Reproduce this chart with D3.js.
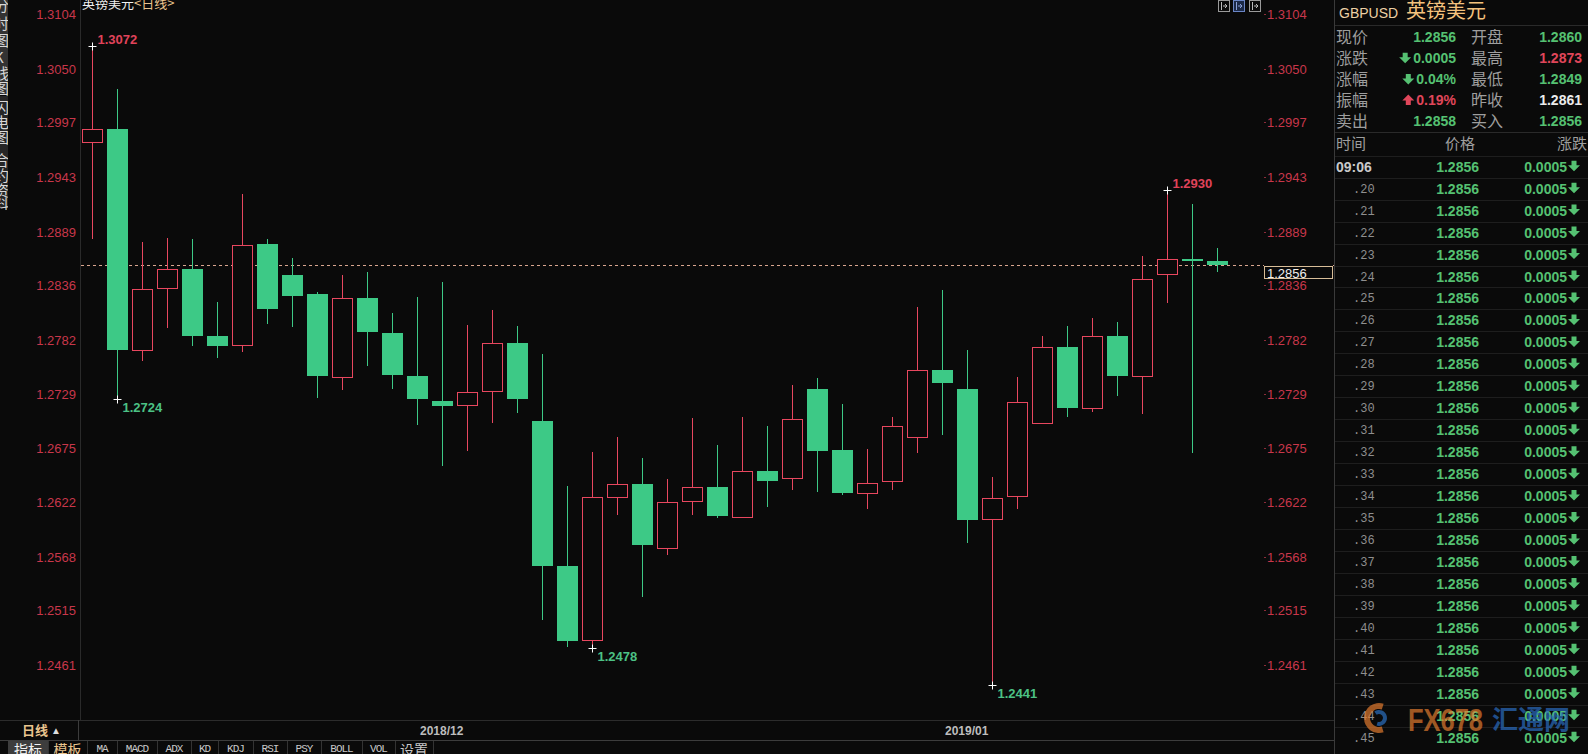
<!DOCTYPE html>
<html><head><meta charset="utf-8">
<script src="https://cdn.jsdelivr.net/npm/d3@7"></script>
<style>
html,body{margin:0;padding:0;background:#0a0a0a;overflow:hidden}
svg{display:block}
</style></head><body>
<svg id="c" width="1588" height="754"></svg>
<script>
// ---------------- data ----------------
const dates = ["2018-11-13","2018-11-14","2018-11-15","2018-11-16","2018-11-19","2018-11-20","2018-11-21","2018-11-22","2018-11-23","2018-11-26","2018-11-27","2018-11-28","2018-11-29","2018-11-30","2018-12-03","2018-12-04","2018-12-05","2018-12-06","2018-12-07","2018-12-10","2018-12-11","2018-12-12","2018-12-13","2018-12-14","2018-12-17","2018-12-18","2018-12-19","2018-12-20","2018-12-21","2018-12-24","2018-12-25","2018-12-26","2018-12-27","2018-12-28","2018-12-31","2019-01-02","2019-01-03","2019-01-04","2019-01-07","2019-01-08","2019-01-09","2019-01-10","2019-01-11","2019-01-14","2019-01-15","2019-01-16"];
const opens  = [1.2977,1.2990,1.2772,1.2833,1.2852,1.2786,1.2777,1.2877,1.2846,1.2827,1.2745,1.2823,1.2789,1.2746,1.2722,1.2718,1.2732,1.2779,1.2702,1.2559,1.2486,1.2627,1.2640,1.2577,1.2623,1.2637,1.2608,1.2653,1.2646,1.2734,1.2673,1.2631,1.2643,1.2686,1.2752,1.2734,1.2605,1.2628,1.2700,1.2775,1.2715,1.2786,1.2746,1.2847,1.2862,1.2860];
const highs  = [1.3072,1.3030,1.2879,1.2883,1.2882,1.2820,1.2926,1.2882,1.2863,1.2829,1.2846,1.2849,1.2809,1.2824,1.2839,1.2797,1.2812,1.2796,1.2768,1.2638,1.2671,1.2686,1.2665,1.2645,1.2705,1.2678,1.2706,1.2697,1.2738,1.2744,1.2719,1.2674,1.2706,1.2815,1.2831,1.2772,1.2647,1.2745,1.2786,1.2796,1.2804,1.2800,1.2865,1.2930,1.2916,1.2873];
const lows   = [1.2882,1.2724,1.2761,1.2794,1.2776,1.2764,1.2770,1.2798,1.2795,1.2725,1.2733,1.2756,1.2734,1.2698,1.2658,1.2672,1.2700,1.2710,1.2505,1.2479,1.2478,1.2609,1.2528,1.2570,1.2609,1.2606,1.2607,1.2617,1.2634,1.2632,1.2629,1.2615,1.2634,1.2670,1.2688,1.2581,1.2441,1.2615,1.2699,1.2706,1.2711,1.2727,1.2709,1.2819,1.2670,1.2849];
const closes = [1.2990,1.2772,1.2832,1.2852,1.2786,1.2776,1.2876,1.2813,1.2825,1.2746,1.2823,1.2789,1.2748,1.2723,1.2717,1.2731,1.2779,1.2724,1.2559,1.2485,1.2627,1.2640,1.2580,1.2622,1.2637,1.2608,1.2653,1.2643,1.2704,1.2673,1.2631,1.2641,1.2697,1.2752,1.2739,1.2605,1.2626,1.2721,1.2775,1.2715,1.2786,1.2746,1.2842,1.2862,1.2861,1.2856];

const yTicks = [1.3104,1.3050,1.2997,1.2943,1.2889,1.2836,1.2782,1.2729,1.2675,1.2622,1.2568,1.2515,1.2461];
const xTickLabels = ["2018/12","2019/01"];
const lastPrice = 1.2856;
const extremaIdx   = [0, 1, 20, 36, 43];
const extremaKind  = ["high","low","low","low","high"];
const extremaText  = ["1.3072","1.2724","1.2478","1.2441","1.2930"];

const quoteLabelsL = ["现价","涨跌","涨幅","振幅","卖出"];
const quoteValuesL = ["1.2856","0.0005","0.04%","0.19%","1.2858"];
const quoteDirL    = [0,-1,-1,1,0];
const quoteLabelsR = ["开盘","最高","最低","昨收","买入"];
const quoteValuesR = ["1.2860","1.2873","1.2849","1.2861","1.2856"];
const quoteColorR  = ["up0","red","up0","white","up0"];

const tickTimes  = ["09:06",".20",".21",".22",".23",".24",".25",".26",".27",".28",".29",".30",".31",".32",".33",".34",".35",".36",".37",".38",".39",".40",".41",".42",".43",".44",".45"];
const tickPrices = tickTimes.map(() => "1.2856");
const tickChanges = tickTimes.map(() => "0.0005");

const indicatorTabs = ["MA","MACD","ADX","KD","KDJ","RSI","PSY","BOLL","VOL"];

// ---------------- style ----------------
const BG = "#0a0a0a", RED = "#e8475f", GREEN = "#3dc986", AXRED = "#c8374a",
      VGREEN = "#55c172", TAN = "#e9c48e", LINE = "#2a2a2a";
const svg = d3.select("#c");
svg.append("rect").attr("width",1588).attr("height",754).attr("fill",BG);

// ---------------- scales ----------------
const y = d3.scaleLinear().domain([1.3104, 1.2461]).range([14, 14 + 0.0643*10124]);
const x = d3.scaleLinear().domain([0, dates.length-1]).range([91.7, 1216.7]);
const bodyW = 20;
const px = v => Math.round(v) + 0.5;

// frame lines
svg.append("line").attr("x1",80.5).attr("x2",80.5).attr("y1",0).attr("y2",720).attr("stroke",LINE);
svg.append("line").attr("x1",1334.5).attr("x2",1334.5).attr("y1",0).attr("y2",754).attr("stroke","#3a3a3a");
svg.append("line").attr("x1",0).attr("x2",1334).attr("y1",720.5).attr("y2",720.5).attr("stroke","#2c2c2c");
svg.append("line").attr("x1",0).attr("x2",1334).attr("y1",740.5).attr("y2",740.5).attr("stroke","#3c3c3c");
svg.append("line").attr("x1",78.5).attr("x2",78.5).attr("y1",720).attr("y2",740).attr("stroke","#3c3c3c");

// left sidebar
svg.append("rect").attr("x",0).attr("y",0).attr("width",8).attr("height",95).attr("fill","#333");
svg.append("rect").attr("x",0).attr("y",96).attr("width",8).attr("height",112).attr("fill","#262626");
const sideChars = [["分",6],["时",24],["图",41],["K",58],["线",74],["图",89],["闪",108],["电",123],["图",138],["合",161],["约",176],["资",191],["料",205]];
const sideG = svg.append("g");
sideG.append("clipPath").attr("id","sideclip").append("rect").attr("width",8).attr("height",210);
sideG.selectAll("text").data(sideChars).join("text")
  .attr("clip-path","url(#sideclip)")
  .attr("x",-6).attr("y",d=>d[1]+5).attr("font-size",15).attr("fill","#d8d8d8")
  .attr("font-family","Noto Sans CJK SC").text(d=>d[0]);

// y axes
const axisFont = "Liberation Sans, Arial, sans-serif";
svg.append("g").selectAll("text").data(yTicks).join("text")
  .attr("x",76).attr("y",d=>y(d)+5).attr("text-anchor","end")
  .attr("font-family",axisFont).attr("font-size",13).attr("fill",AXRED)
  .text(d=>d.toFixed(4));
const rAx = svg.append("g");
rAx.selectAll("line").data(yTicks).join("line")
  .attr("x1",1264).attr("x2",1266).attr("y1",d=>px(y(d))).attr("y2",d=>px(y(d))).attr("stroke","#8a2c3a");
rAx.selectAll("text").data(yTicks).join("text")
  .attr("x",1267).attr("y",d=>y(d)+5)
  .attr("font-family",axisFont).attr("font-size",13).attr("fill",AXRED)
  .text(d=>d.toFixed(4));

// last price dashed line and box
svg.append("line").attr("x1",81).attr("x2",1264).attr("y1",px(y(lastPrice))).attr("y2",px(y(lastPrice)))
  .attr("stroke","#d9a58f").attr("stroke-dasharray","3,3");
svg.append("line").attr("x1",1333).attr("x2",1334).attr("y1",px(y(lastPrice))).attr("y2",px(y(lastPrice))).attr("stroke","#d9a58f");
svg.append("rect").attr("x",1264.5).attr("y",Math.round(y(lastPrice))+1.5).attr("width",68).attr("height",12)
  .attr("fill",BG).attr("stroke","#d8bd98");
svg.append("text").attr("x",1267).attr("y",y(lastPrice)+12.5)
  .attr("font-family",axisFont).attr("font-size",13).attr("fill","#eee").text(lastPrice.toFixed(4));

// candles
const idx = d3.range(dates.length);
const cg = svg.append("g");
cg.selectAll("line.w").data(idx).join("line")
  .attr("x1",i=>px(x(i))).attr("x2",i=>px(x(i)))
  .attr("y1",i=>Math.round(y(highs[i]))).attr("y2",i=>Math.round(y(lows[i])))
  .attr("stroke",i=>closes[i]>opens[i]?RED:GREEN).attr("stroke-width",1);
cg.selectAll("rect.b").data(idx).join("rect")
  .attr("x",i=>{const up=closes[i]>opens[i]; return Math.round(x(i))-bodyW/2+(up?0.5:0);})
  .attr("y",i=>{const up=closes[i]>opens[i]; return Math.round(y(Math.max(opens[i],closes[i])))+(up?0.5:0);})
  .attr("width",i=>closes[i]>opens[i]?bodyW:bodyW+1)
  .attr("height",i=>Math.max(2,Math.round(Math.abs(y(opens[i])-y(closes[i])))))
  .attr("fill",i=>closes[i]>opens[i]?BG:GREEN)
  .attr("stroke",i=>closes[i]>opens[i]?RED:"none");

// extrema annotations
const ag = svg.append("g");
extremaIdx.forEach((i,k)=>{
  const isHigh = extremaKind[k]==="high";
  const cx = px(x(i)), cy = Math.round(y(isHigh?highs[i]:lows[i]))+0.5;
  ag.append("line").attr("x1",cx-4).attr("x2",cx+4).attr("y1",cy).attr("y2",cy).attr("stroke","#fff");
  ag.append("line").attr("x1",cx).attr("x2",cx).attr("y1",cy-4).attr("y2",cy+4).attr("stroke","#fff");
  ag.append("text").attr("x",cx+5).attr("y",isHigh?cy-2.5:cy+12.5)
    .attr("font-family",axisFont).attr("font-weight","bold").attr("font-size",13)
    .attr("fill",isHigh?"#e0435a":"#4cc285").text(extremaText[k]);
});

// title
const title = svg.append("text").attr("x",82).attr("y",8).attr("font-size",13).attr("font-family","Noto Sans CJK SC");
title.append("tspan").attr("fill","#f0f0f0").text("英镑美元");
title.append("tspan").attr("fill",TAN).text("<日线>");

// top-right icons
[1218,1233,1249].forEach((ix,k)=>{
  svg.append("rect").attr("x",ix+0.5).attr("y",0.5).attr("width",11).attr("height",11)
    .attr("fill",k===1?"#1c2a48":"none").attr("stroke",k===1?"#6b86c6":"#9a9a9a");
  svg.append("line").attr("x1",ix+3.5).attr("x2",ix+3.5).attr("y1",2).attr("y2",10).attr("stroke",k===1?"#8aa0d8":"#bbb");
  svg.append("path").attr("d",`M${ix+5},6 h4 M${ix+7},4 l2,2 l-2,2`).attr("stroke",k===1?"#8aa0d8":"#bbb").attr("fill","none");
});

// x axis labels: first trading day of each month
const monthStarts = idx.filter(i => i>0 && dates[i].slice(0,7)!==dates[i-1].slice(0,7));
svg.append("g").selectAll("text").data(monthStarts).join("text")
  .attr("x",d=>x(d)).attr("y",735).attr("text-anchor","middle")
  .attr("font-family",axisFont).attr("font-weight","bold").attr("font-size",12).attr("fill","#bdbdbd")
  .text((d,i)=>xTickLabels[i]);

// bottom-left period tab
svg.append("text").attr("x",22).attr("y",735).attr("font-family","Noto Sans CJK SC").attr("font-size",13)
  .attr("font-weight","bold").attr("fill",TAN).text("日线");
svg.append("text").attr("x",51).attr("y",734).attr("font-size",10).attr("fill","#ddd").attr("font-family",axisFont).text("▲");

// toolbar
svg.append("rect").attr("x",8).attr("y",741).attr("width",40).attr("height",13).attr("fill","#3d3d3d");
svg.append("text").attr("x",28).attr("y",755).attr("text-anchor","middle").attr("font-family","Noto Sans CJK SC")
  .attr("font-size",14).attr("fill","#f2f2f2").text("指标");
const seps = [48,87,117,157,191,218,253,287,321,362,395,433];
svg.append("g").selectAll("line").data(seps).join("line")
  .attr("x1",d=>d+0.5).attr("x2",d=>d+0.5).attr("y1",741).attr("y2",754).attr("stroke","#333");
svg.append("text").attr("x",(48+87)/2).attr("y",755).attr("text-anchor","middle").attr("font-family","Noto Sans CJK SC")
  .attr("font-size",14).attr("fill",TAN).text("模板");
svg.append("g").selectAll("text").data(indicatorTabs).join("text")
  .attr("x",(d,i)=>(seps[i+1]+seps[i+2])/2).attr("y",752).attr("text-anchor","middle")
  .attr("font-family","Liberation Mono, monospace").attr("font-size",11).attr("letter-spacing",-1)
  .attr("fill","#c8c8c8").text(d=>d);
svg.append("text").attr("x",(395+433)/2).attr("y",755).attr("text-anchor","middle").attr("font-family","Noto Sans CJK SC")
  .attr("font-size",14).attr("fill","#c8c8c8").text("设置");

// ---------------- right panel ----------------
const P = svg.append("g");
const arrow = (g, cx, cy, dir, color) => {
  const d = dir<0 ? "M-2.5,-5 h5 v4.5 h3.5 l-6,6 l-6,-6 h3.5 z" : "M-2.5,5 h5 v-4.5 h3.5 l-6,-6 l-6,6 h3.5 z";
  g.append("path").attr("d",d).attr("transform",`translate(${cx},${cy})`).attr("fill",color);
};
const hdr = P.append("text").attr("x",1339).attr("y",18);
hdr.append("tspan").attr("font-family",axisFont).attr("font-size",14).attr("fill","#ecd0a4").text("GBPUSD ");
hdr.append("tspan").attr("font-family","Noto Sans CJK SC").attr("font-size",20).attr("fill","#f4c27e").attr("dx",4).text("英镑美元");
P.append("line").attr("x1",1335).attr("x2",1588).attr("y1",25.5).attr("y2",25.5).attr("stroke",LINE);
P.append("line").attr("x1",1335).attr("x2",1588).attr("y1",132.5).attr("y2",132.5).attr("stroke",LINE);

const rowY = k => 36.7 + k*21.1;
const colorOf = c => c==="red" ? "#e0465a" : c==="white" ? "#ececec" : VGREEN;
quoteLabelsL.forEach((lab,k)=>{
  P.append("text").attr("x",1336).attr("y",rowY(k)+6).attr("font-family","Noto Sans CJK SC").attr("font-size",16).attr("fill","#9e9e9e").text(lab);
  const col = quoteDirL[k]>0 ? "#e0465a" : VGREEN;
  const t = P.append("text").attr("x",1456).attr("y",rowY(k)+5).attr("text-anchor","end")
    .attr("font-family",axisFont).attr("font-weight","bold").attr("font-size",14).attr("fill",col).text(quoteValuesL[k]);
  if (quoteDirL[k]!==0) {
    const w = t.node().getComputedTextLength();
    arrow(P, 1456 - w - 8, rowY(k), quoteDirL[k], col);
  }
  P.append("text").attr("x",1471).attr("y",rowY(k)+6).attr("font-family","Noto Sans CJK SC").attr("font-size",16).attr("fill","#9e9e9e").text(quoteLabelsR[k]);
  P.append("text").attr("x",1582).attr("y",rowY(k)+5).attr("text-anchor","end")
    .attr("font-family",axisFont).attr("font-weight","bold").attr("font-size",14).attr("fill",colorOf(quoteColorR[k])).text(quoteValuesR[k]);
});

// tick list header
P.append("text").attr("x",1336).attr("y",149).attr("font-family","Noto Sans CJK SC").attr("font-size",15).attr("fill","#9e9e9e").text("时间");
P.append("text").attr("x",1460).attr("y",149).attr("text-anchor","middle").attr("font-family","Noto Sans CJK SC").attr("font-size",15).attr("fill","#9e9e9e").text("价格");
P.append("text").attr("x",1587).attr("y",149).attr("text-anchor","end").attr("font-family","Noto Sans CJK SC").attr("font-size",15).attr("fill","#9e9e9e").text("涨跌");

const tRowY = k => 166.7 + k*21.96;
tickTimes.forEach((t,k)=>{
  const cy = tRowY(k);
  P.append("line").attr("x1",1335).attr("x2",1588).attr("y1",Math.round(cy-11)+0.5).attr("y2",Math.round(cy-11)+0.5).attr("stroke","#1e1e1e");
  if (k===0) {
    P.append("text").attr("x",1336).attr("y",cy+5).attr("font-family",axisFont).attr("font-weight","bold").attr("font-size",14).attr("fill","#c9c9c9").text(t);
  } else {
    P.append("text").attr("x",1353).attr("y",cy+4).attr("font-family","Liberation Mono, monospace").attr("font-size",12).attr("fill","#8f8f8f").text(t);
  }
  P.append("text").attr("x",1479).attr("y",cy+5).attr("text-anchor","end").attr("font-family",axisFont).attr("font-weight","bold").attr("font-size",14).attr("fill",VGREEN).text(tickPrices[k]);
  P.append("text").attr("x",1567).attr("y",cy+5).attr("text-anchor","end").attr("font-family",axisFont).attr("font-weight","bold").attr("font-size",14).attr("fill",VGREEN).text(tickChanges[k]);
  arrow(P, 1574, cy-1, -1, VGREEN);
});

// watermark
const W = svg.append("g").attr("opacity",0.7);
W.append("path").attr("d",d3.arc()({innerRadius:9,outerRadius:15,startAngle:Math.PI*0.9,endAngle:Math.PI*2.1})).attr("transform","translate(1379,718)").attr("fill","#e07a2e");
W.append("path").attr("d",d3.arc()({innerRadius:4,outerRadius:8,startAngle:-Math.PI*0.2,endAngle:Math.PI*1.1})).attr("transform","translate(1379,718)").attr("fill","#2c6fc0");
W.append("text").attr("x",1408).attr("y",731).attr("font-family",axisFont).attr("font-weight","bold").attr("font-size",32)
  .attr("textLength",75).attr("lengthAdjust","spacingAndGlyphs").attr("fill","#e07a2e").text("FX678");
W.append("text").attr("x",1492).attr("y",729).attr("font-family","Noto Sans CJK SC").attr("font-weight","bold").attr("font-size",26)
  .attr("fill","#2a6cc0").text("汇通网");
</script>
</body></html>
